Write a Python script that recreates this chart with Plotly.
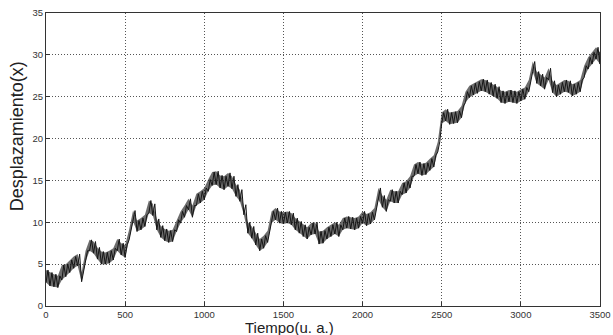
import plotly.graph_objects as go

# Time samples (u. a.), read every 25 units
t_vals = list(range(0, 3501, 25))

# Lower edge of the noisy band at each time sample
y_lo = [2.8, 2.4, 2.3, 2.2, 3.1, 3.5, 4.0, 4.5, 4.8, 2.9,
        5.3, 6.6, 6.3, 5.6, 5.0, 5.0, 5.1, 5.5, 6.6, 6.1,
        5.8, 7.9, 10.1, 8.9, 9.1, 9.5, 11.1, 10.8, 9.1, 8.2,
        7.8, 7.6, 7.7, 8.9, 9.9, 10.6, 11.5, 10.6, 12.0, 12.3,
        12.7, 13.7, 14.4, 14.5, 14.1, 13.9, 14.3, 14.0, 13.1, 12.5,
        10.9, 8.7, 8.1, 7.3, 6.6, 6.9, 7.6, 9.9, 10.3, 9.9,
        9.8, 9.9, 9.7, 9.1, 8.7, 8.3, 8.0, 8.5, 8.6, 7.4,
        7.5, 8.0, 8.3, 8.6, 8.3, 9.1, 9.3, 9.2, 9.1, 9.3,
        9.9, 9.6, 9.8, 10.3, 12.7, 11.8, 11.3, 12.5, 12.3, 12.3,
        13.3, 13.5, 14.1, 15.5, 15.8, 15.6, 15.7, 16.2, 16.6, 18.4,
        21.8, 22.1, 21.7, 21.8, 21.9, 22.5, 24.3, 24.9, 25.2, 25.4,
        25.7, 25.6, 25.3, 25.1, 24.8, 24.3, 24.2, 24.4, 24.3, 24.2,
        24.5, 24.7, 25.6, 28.0, 26.6, 26.3, 25.9, 27.0, 25.5, 25.0,
        25.3, 25.6, 25.5, 25.1, 25.3, 25.6, 27.3, 28.3, 28.9, 29.5,
        28.9]

# Upper edge of the noisy band at each time sample
y_hi = [4.3, 4.0, 3.8, 3.6, 4.9, 5.0, 5.5, 5.9, 6.2, 4.0,
        6.6, 7.9, 7.7, 7.0, 6.5, 6.4, 6.6, 6.9, 8.0, 7.5,
        7.3, 9.1, 11.4, 10.2, 10.5, 10.9, 12.6, 12.2, 10.4, 9.6,
        9.2, 9.0, 9.1, 10.3, 11.3, 12.0, 12.8, 12.0, 13.4, 13.7,
        14.1, 15.1, 16.0, 16.1, 15.6, 15.5, 15.9, 15.5, 14.5, 13.9,
        12.1, 10.0, 9.5, 8.7, 8.0, 8.4, 9.0, 11.3, 11.7, 11.3,
        11.2, 11.3, 11.1, 10.5, 10.1, 9.7, 9.4, 9.9, 10.0, 8.9,
        9.0, 9.4, 9.7, 10.0, 9.7, 10.5, 10.7, 10.6, 10.5, 10.7,
        11.3, 11.0, 11.2, 11.7, 14.1, 13.2, 12.7, 13.9, 13.7, 13.7,
        14.7, 14.9, 15.5, 16.9, 17.2, 17.0, 17.1, 17.6, 18.0, 19.6,
        23.1, 23.5, 23.1, 23.2, 23.3, 23.9, 25.6, 26.3, 26.6, 26.8,
        27.1, 27.0, 26.7, 26.5, 26.2, 25.7, 25.6, 25.8, 25.7, 25.6,
        25.9, 26.1, 27.0, 29.2, 28.0, 27.7, 27.3, 28.4, 26.9, 26.4,
        26.7, 27.0, 26.9, 26.5, 26.7, 27.0, 28.7, 29.7, 30.3, 30.9,
        30.3]

x_ticks = [0, 500, 1000, 1500, 2000, 2500, 3000, 3500]
y_ticks = [0, 5, 10, 15, 20, 25, 30, 35]
x_title = "Tiempo(u. a.)"
y_title = "Desplazamiento(x)"

FONT = "Liberation Sans, Arial, sans-serif"

# Jagged trace alternating lower and upper band edges
xs, ys = [], []
for i, t in enumerate(t_vals):
    xs.append(t)
    ys.append(y_lo[i])
    xs.append(min(t + 12.5, 3500))
    ys.append(y_hi[i])

fig = go.Figure()
fig.add_trace(go.Scatter(x=t_vals, y=y_lo, mode="lines", line=dict(width=0, color="#2b2b2b"),
                         showlegend=False, hoverinfo="skip"))
fig.add_trace(go.Scatter(x=t_vals, y=y_hi, mode="lines", line=dict(width=0, color="#2b2b2b"),
                         fill="tonexty", fillcolor="rgba(30,30,30,0.65)",
                         showlegend=False, hoverinfo="skip"))
fig.add_trace(go.Scatter(x=xs, y=ys, mode="lines",
                         line=dict(color="#151515", width=1),
                         showlegend=False, hoverinfo="skip"))

axis_common = dict(
    showline=True, linecolor="#333333", linewidth=1, mirror=True,
    showgrid=True, gridcolor="#555555", griddash="1px,2px", gridwidth=1,
    ticks="inside", ticklen=4, tickcolor="#333333",
    zeroline=False, ticklabeloverflow="allow",
    tickfont=dict(family=FONT, size=9.5, color="#333333"),
)

fig.update_layout(
    width=613, height=335,
    margin=dict(l=46, r=13, t=13, b=29),
    paper_bgcolor="white", plot_bgcolor="white",
    xaxis=dict(range=[0, 3500], tickvals=x_ticks, ticktext=[str(v) for v in x_ticks],
               automargin=False, **axis_common),
    yaxis=dict(range=[0, 35], tickvals=y_ticks, ticktext=[str(v) for v in y_ticks],
               automargin=False, **axis_common),
    annotations=[
        dict(text=x_title, xref="paper", yref="paper", x=0.44, y=-0.074,
             xanchor="center", yanchor="middle", showarrow=False,
             font=dict(family=FONT, size=15, color="#222222")),
        dict(text=y_title, xref="paper", yref="paper", x=-0.052, y=0.58,
             xanchor="center", yanchor="middle", showarrow=False, textangle=-90,
             font=dict(family=FONT, size=18, color="#222222")),
    ],
)

fig.write_html("out.html", config={"displayModeBar": False},
               post_script="document.body.style.margin='0';")
